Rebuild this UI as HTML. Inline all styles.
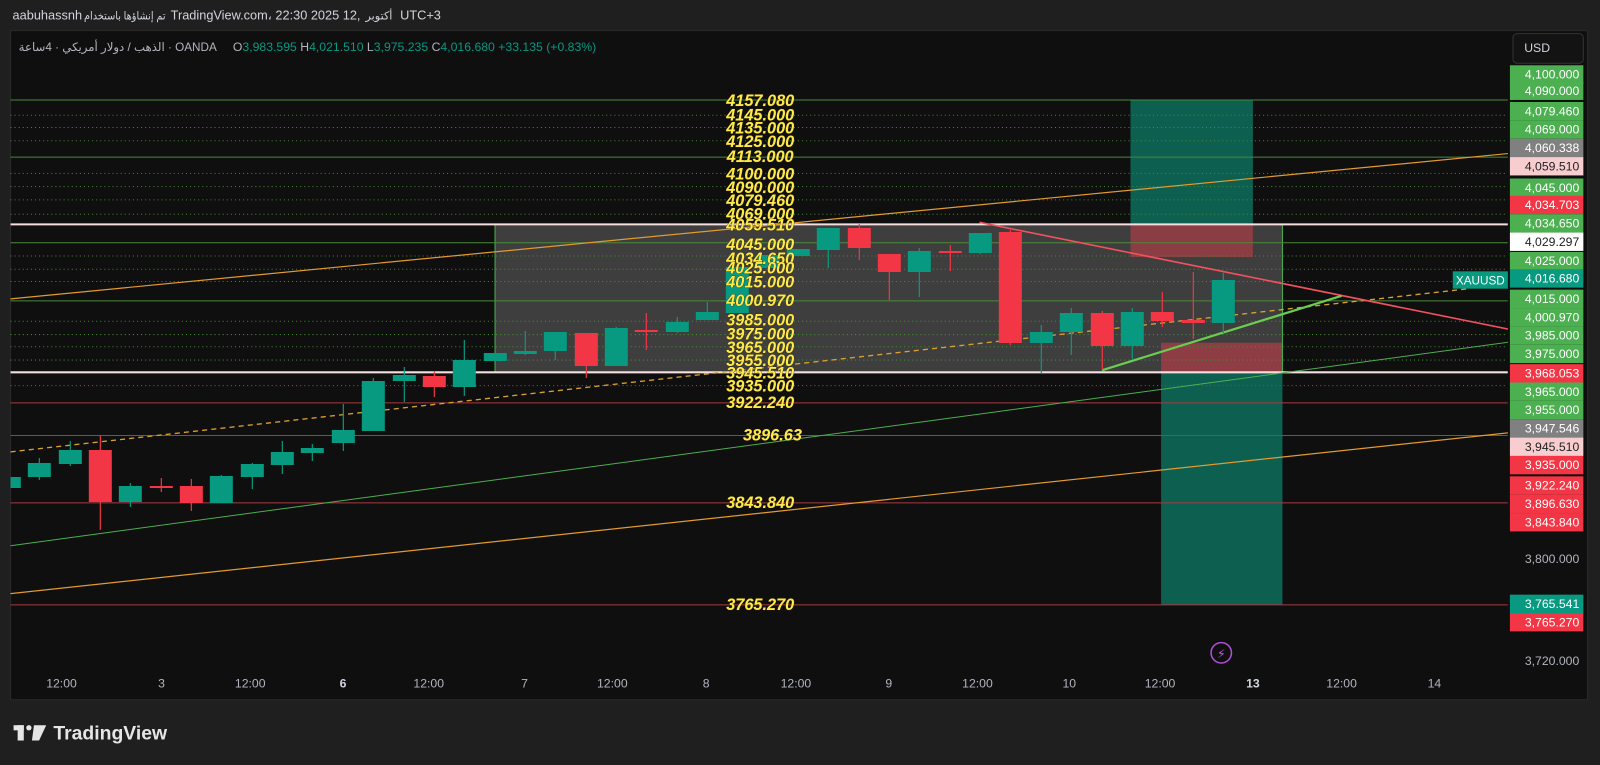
<!DOCTYPE html>
<html><head><meta charset="utf-8">
<style>
html,body{margin:0;padding:0;background:#1f1f1f;}
svg{display:block;}
text{font-family:"Liberation Sans","Noto Sans CJK SC","DejaVu Sans",sans-serif;}
.ax{font-size:12px;fill:#fff;text-anchor:end;}
.axd{font-size:12px;fill:#222;text-anchor:end;}
.yl{font-size:16px;font-weight:bold;font-style:italic;fill:#ffe84a;text-anchor:middle;stroke:#2a2400;stroke-width:0.6;paint-order:stroke;}
.tm{font-size:12px;fill:#b2b5be;text-anchor:middle;}
.u{fill:#089981;}
.d{fill:#f23645;}
.wu{stroke:#089981;stroke-width:1.2;}
.wd{stroke:#f23645;stroke-width:1.2;}
</style></head>
<body>
<svg width="1600" height="765" viewBox="0 0 1568 750" xmlns="http://www.w3.org/2000/svg">
<defs><clipPath id="c"><rect x="10" y="30" width="1468" height="656"/></clipPath></defs>
<rect width="1568" height="750" fill="#1f1f1f"/>
<!-- header -->
<text x="12" y="19" font-size="12.5" fill="#d1d4dc">aabuhassnh</text>
<text x="82" y="19" font-size="11" fill="#d1d4dc" textLength="80" lengthAdjust="spacingAndGlyphs">تم إنشاؤها باستخدام</text>
<text x="167" y="19" font-size="12.5" fill="#d1d4dc">TradingView.com، 22:30 2025 12,</text>
<text x="358" y="19" font-size="11" fill="#d1d4dc">أكتوبر</text>
<text x="392" y="19" font-size="12.5" fill="#d1d4dc">UTC+3</text>
<!-- chart panel -->
<rect x="10" y="30" width="1546" height="656" fill="#0f0f0f" stroke="#2a2a2a"/>
<text x="18" y="50" font-size="11.5" fill="#b2b5be">الذهب / دولار أمريكي · 4ساعة · OANDA</text>
<text x="228" y="50" font-size="12" fill="#b2b5be">O<tspan fill="#089981">3,983.595</tspan>  H<tspan fill="#089981">4,021.510</tspan>  L<tspan fill="#089981">3,975.235</tspan>  C<tspan fill="#089981">4,016.680</tspan>  <tspan fill="#089981">+33.135 (+0.83%)</tspan></text>
<rect x="1483" y="33" width="69" height="29" rx="4" fill="#131313" stroke="#333"/>
<text x="1494" y="51" font-size="12" fill="#d1d4dc">USD</text>

<g clip-path="url(#c)">
<rect x="485" y="220" width="772" height="145" fill="#474747" opacity="0.85"/>
<rect x="1108" y="98" width="120" height="122" fill="#0d5f50"/>
<rect x="1108" y="220" width="120" height="32" fill="#8a3d42"/>
<rect x="1138" y="336" width="119" height="29" fill="#8f3d44"/>
<rect x="1138" y="365" width="119" height="228" fill="#0d5f50"/>
<line x1="485" y1="220" x2="485" y2="365" stroke="#4caf50"/>
<line x1="1257" y1="220" x2="1257" y2="365" stroke="#4caf50"/>
<g stroke-width="1">
<line x1="10" x2="1478" y1="98" y2="98" stroke="#4a8a3a"/>
<line x1="10" x2="1478" y1="113" y2="113" stroke="#4a8a3a" stroke-dasharray="1 3"/>
<line x1="10" x2="1478" y1="125" y2="125" stroke="#4a8a3a" stroke-dasharray="1 3"/>
<line x1="10" x2="1478" y1="138" y2="138" stroke="#4a8a3a" stroke-dasharray="1 3"/>
<line x1="10" x2="1478" y1="154" y2="154" stroke="#4a8a3a"/>
<line x1="10" x2="1478" y1="170" y2="170" stroke="#4a8a3a" stroke-dasharray="1 3"/>
<line x1="10" x2="1478" y1="183" y2="183" stroke="#4a8a3a" stroke-dasharray="1 3"/>
<line x1="10" x2="1478" y1="196" y2="196" stroke="#4a8a3a" stroke-dasharray="1 3"/>
<line x1="10" x2="1478" y1="210" y2="210" stroke="#4a8a3a" stroke-dasharray="1 3"/>
<line x1="10" x2="1478" y1="238" y2="238" stroke="#4a8a3a"/>
<line x1="10" x2="1478" y1="251" y2="251" stroke="#4a8a3a" stroke-dasharray="1 3"/>
<line x1="10" x2="1478" y1="264" y2="264" stroke="#4a8a3a" stroke-dasharray="1 3"/>
<line x1="10" x2="1478" y1="276" y2="276" stroke="#4a8a3a" stroke-dasharray="1 3"/>
<line x1="10" x2="1478" y1="295" y2="295" stroke="#4a8a3a"/>
<line x1="10" x2="1478" y1="315" y2="315" stroke="#4a8a3a" stroke-dasharray="1 3"/>
<line x1="10" x2="1478" y1="328" y2="328" stroke="#4a8a3a" stroke-dasharray="1 3"/>
<line x1="10" x2="1478" y1="340" y2="340" stroke="#4a8a3a" stroke-dasharray="1 3"/>
<line x1="10" x2="1478" y1="353" y2="353" stroke="#4a8a3a" stroke-dasharray="1 3"/>
<line x1="10" x2="1478" y1="378" y2="378" stroke="#a83a40" stroke-dasharray="1 3"/>
<line x1="10" x2="1478" y1="395" y2="395" stroke="#a83a40"/>
<line x1="10" x2="1478" y1="427" y2="427" stroke="#a83a40"/>
<line x1="10" x2="1478" y1="493" y2="493" stroke="#a83a40"/>
<line x1="10" x2="1478" y1="593" y2="593" stroke="#a83a40"/>
<line x1="10" x2="1478" y1="220" y2="220" stroke="#f5dede" stroke-width="2"/>
<line x1="10" x2="1478" y1="365" y2="365" stroke="#f5dede" stroke-width="2"/>
</g>
<line x1="10" y1="293" x2="1556" y2="143" stroke="#e39a2e" stroke-width="1.2"/>
<line x1="10" y1="582" x2="1556" y2="416" stroke="#e39a2e" stroke-width="1.2"/>
<line x1="10" y1="535" x2="1556" y2="325" stroke="#4caf50" stroke-width="1"/>
<line x1="10" y1="443" x2="1440" y2="283" stroke="#d9a030" stroke-width="1.3" stroke-dasharray="5 4"/>
<line x1="960" y1="218" x2="1480" y2="323" stroke="#f0525e" stroke-width="1.6"/>
<line x1="1080" y1="363" x2="1315" y2="290" stroke="#6ccc50" stroke-width="2.2"/>
<!-- candles (original coords) -->
<g transform="scale(0.98039)">
<line class="wu" x1="9" x2="9" y1="477" y2="488"/><rect class="u" x="-2.5" y="477" width="23" height="11"/>
<line class="wu" x1="39" x2="39" y1="458" y2="480"/><rect class="u" x="27.5" y="463" width="23" height="14"/>
<line class="wu" x1="70" x2="70" y1="441" y2="466"/><rect class="u" x="58.5" y="450" width="23" height="14"/>
<line class="wd" x1="100" x2="100" y1="435" y2="530"/><rect class="d" x="88.5" y="450" width="23" height="52"/>
<line class="wu" x1="130" x2="130" y1="483" y2="507"/><rect class="u" x="118.5" y="486" width="23" height="16"/>
<line class="wd" x1="161" x2="161" y1="478" y2="492"/><rect class="d" x="149.5" y="486" width="23" height="2"/>
<line class="wd" x1="191" x2="191" y1="479" y2="511"/><rect class="d" x="179.5" y="486" width="23" height="17"/>
<line class="wu" x1="221" x2="221" y1="475" y2="503"/><rect class="u" x="209.5" y="476" width="23" height="27"/>
<line class="wu" x1="252" x2="252" y1="463" y2="489"/><rect class="u" x="240.5" y="464" width="23" height="13"/>
<line class="wu" x1="282" x2="282" y1="441" y2="474"/><rect class="u" x="270.5" y="452" width="23" height="13"/>
<line class="wu" x1="312" x2="312" y1="444" y2="461"/><rect class="u" x="300.5" y="448" width="23" height="5"/>
<line class="wu" x1="343" x2="343" y1="404" y2="451"/><rect class="u" x="331.5" y="430" width="23" height="13"/>
<line class="wu" x1="373" x2="373" y1="378" y2="431"/><rect class="u" x="361.5" y="381" width="23" height="50"/>
<line class="wu" x1="404" x2="404" y1="367" y2="402"/><rect class="u" x="392.5" y="375" width="23" height="6"/>
<line class="wd" x1="434" x2="434" y1="371" y2="397"/><rect class="d" x="422.5" y="376" width="23" height="11"/>
<line class="wu" x1="464" x2="464" y1="340" y2="396"/><rect class="u" x="452.5" y="360" width="23" height="27"/>
<line class="wu" x1="495" x2="495" y1="353" y2="361"/><rect class="u" x="483.5" y="353" width="23" height="8"/>
<line class="wu" x1="525" x2="525" y1="331" y2="355"/><rect class="u" x="513.5" y="351" width="23" height="3"/>
<line class="wu" x1="555" x2="555" y1="332" y2="360"/><rect class="u" x="543.5" y="332" width="23" height="19"/>
<line class="wd" x1="586" x2="586" y1="333" y2="378"/><rect class="d" x="574.5" y="333" width="23" height="33"/>
<line class="wu" x1="616" x2="616" y1="327" y2="366"/><rect class="u" x="604.5" y="328" width="23" height="38"/>
<line class="wd" x1="646" x2="646" y1="313" y2="350"/><rect class="d" x="634.5" y="330" width="23" height="2"/>
<line class="wu" x1="677" x2="677" y1="317" y2="333"/><rect class="u" x="665.5" y="322" width="23" height="10"/>
<line class="wu" x1="707" x2="707" y1="302" y2="320"/><rect class="u" x="695.5" y="312" width="23" height="8"/>
<line class="wu" x1="737" x2="737" y1="267" y2="313"/><rect class="u" x="725.5" y="267" width="23" height="46"/>
<line class="wu" x1="768" x2="768" y1="255" y2="268"/><rect class="u" x="756.5" y="255" width="23" height="13"/>
<line class="wu" x1="798" x2="798" y1="249" y2="256"/><rect class="u" x="786.5" y="249" width="23" height="7"/>
<line class="wu" x1="828" x2="828" y1="228" y2="268"/><rect class="u" x="816.5" y="228" width="23" height="22"/>
<line class="wd" x1="859" x2="859" y1="224" y2="260"/><rect class="d" x="847.5" y="228" width="23" height="20"/>
<line class="wd" x1="889" x2="889" y1="254" y2="300"/><rect class="d" x="877.5" y="254" width="23" height="18"/>
<line class="wu" x1="919" x2="919" y1="248" y2="297"/><rect class="u" x="907.5" y="251" width="23" height="21"/>
<line class="wd" x1="950" x2="950" y1="245" y2="271"/><rect class="d" x="938.5" y="251" width="23" height="2"/>
<line class="wu" x1="980" x2="980" y1="233" y2="254"/><rect class="u" x="968.5" y="233" width="23" height="20"/>
<line class="wd" x1="1010" x2="1010" y1="230" y2="345"/><rect class="d" x="998.5" y="232" width="23" height="111"/>
<line class="wu" x1="1041" x2="1041" y1="325" y2="373"/><rect class="u" x="1029.5" y="332" width="23" height="11"/>
<line class="wu" x1="1071" x2="1071" y1="308" y2="355"/><rect class="u" x="1059.5" y="313" width="23" height="19"/>
<line class="wd" x1="1102" x2="1102" y1="311" y2="370"/><rect class="d" x="1090.5" y="313" width="23" height="33"/>
<line class="wu" x1="1132" x2="1132" y1="308" y2="360"/><rect class="u" x="1120.5" y="312" width="23" height="34"/>
<line class="wd" x1="1162" x2="1162" y1="292" y2="327"/><rect class="d" x="1150.5" y="312" width="23" height="9"/>
<line class="wd" x1="1193" x2="1193" y1="272" y2="339"/><rect class="d" x="1181.5" y="320" width="23" height="3"/>
<line class="wu" x1="1223" x2="1223" y1="273" y2="333"/><rect class="u" x="1211.5" y="280" width="23" height="43"/>
</g>
</g>
<!-- yellow labels -->
<g>
<text class="yl" x="745" y="104">4157.080</text>
<text class="yl" x="745" y="118">4145.000</text>
<text class="yl" x="745" y="131">4135.000</text>
<text class="yl" x="745" y="144">4125.000</text>
<text class="yl" x="745" y="159">4113.000</text>
<text class="yl" x="745" y="176">4100.000</text>
<text class="yl" x="745" y="189">4090.000</text>
<text class="yl" x="745" y="202">4079.460</text>
<text class="yl" x="745" y="215">4069.000</text>
<text class="yl" x="745" y="226">4059.510</text>
<text class="yl" x="745" y="245">4045.000</text>
<text class="yl" x="745" y="259">4034.650</text>
<text class="yl" x="745" y="268">4025.000</text>
<text class="yl" x="745" y="282">4015.000</text>
<text class="yl" x="745" y="300">4000.970</text>
<text class="yl" x="745" y="319">3985.000</text>
<text class="yl" x="745" y="333">3975.000</text>
<text class="yl" x="745" y="346">3965.000</text>
<text class="yl" x="745" y="359">3955.000</text>
<text class="yl" x="745" y="371">3945.510</text>
<text class="yl" x="745" y="384">3935.000</text>
<text class="yl" x="745" y="400">3922.240</text>
<text class="yl" x="757" y="432">3896.63</text>
<text class="yl" x="745" y="498">3843.840</text>
<text class="yl" x="745" y="598">3765.270</text>
</g>
<rect x="1424" y="266" width="54" height="17" fill="#089981"/>
<text x="1451" y="279" font-size="11.5" fill="#fff" text-anchor="middle">XAUUSD</text>
<!-- right axis labels -->
<g>
<rect x="1480" y="64" width="72" height="18" fill="#4caf50"/><text class="ax" x="1548" y="77">4,100.000</text>
<rect x="1480" y="80" width="72" height="18" fill="#4caf50"/><text class="ax" x="1548" y="93">4,090.000</text>
<rect x="1480" y="100" width="72" height="18" fill="#4caf50"/><text class="ax" x="1548" y="113">4,079.460</text>
<rect x="1480" y="118" width="72" height="18" fill="#4caf50"/><text class="ax" x="1548" y="131">4,069.000</text>
<rect x="1480" y="136" width="72" height="18" fill="#808080"/><text class="ax" x="1548" y="149">4,060.338</text>
<rect x="1480" y="154" width="72" height="18" fill="#f8cdd0"/><text class="axd" x="1548" y="167">4,059.510</text>
<rect x="1480" y="175" width="72" height="18" fill="#4caf50"/><text class="ax" x="1548" y="188">4,045.000</text>
<rect x="1480" y="192" width="72" height="18" fill="#f23645"/><text class="ax" x="1548" y="205">4,034.703</text>
<rect x="1480" y="210" width="72" height="18" fill="#4caf50"/><text class="ax" x="1548" y="223">4,034.650</text>
<rect x="1480" y="228" width="72" height="18" fill="#ffffff"/><text class="axd" x="1548" y="241">4,029.297</text>
<rect x="1480" y="247" width="72" height="18" fill="#4caf50"/><text class="ax" x="1548" y="260">4,025.000</text>
<rect x="1480" y="264" width="72" height="18" fill="#089981"/><text class="ax" x="1548" y="277">4,016.680</text>
<rect x="1480" y="284" width="72" height="18" fill="#4caf50"/><text class="ax" x="1548" y="297">4,015.000</text>
<rect x="1480" y="302" width="72" height="18" fill="#4caf50"/><text class="ax" x="1548" y="315">4,000.970</text>
<rect x="1480" y="320" width="72" height="18" fill="#4caf50"/><text class="ax" x="1548" y="333">3,985.000</text>
<rect x="1480" y="338" width="72" height="18" fill="#4caf50"/><text class="ax" x="1548" y="351">3,975.000</text>
<rect x="1480" y="357" width="72" height="18" fill="#f23645"/><text class="ax" x="1548" y="370">3,968.053</text>
<rect x="1480" y="375" width="72" height="18" fill="#4caf50"/><text class="ax" x="1548" y="388">3,965.000</text>
<rect x="1480" y="393" width="72" height="18" fill="#4caf50"/><text class="ax" x="1548" y="406">3,955.000</text>
<rect x="1480" y="411" width="72" height="18" fill="#808080"/><text class="ax" x="1548" y="424">3,947.546</text>
<rect x="1480" y="429" width="72" height="18" fill="#f8cdd0"/><text class="axd" x="1548" y="442">3,945.510</text>
<rect x="1480" y="447" width="72" height="18" fill="#f23645"/><text class="ax" x="1548" y="460">3,935.000</text>
<rect x="1480" y="467" width="72" height="18" fill="#f23645"/><text class="ax" x="1548" y="480">3,922.240</text>
<rect x="1480" y="485" width="72" height="18" fill="#f23645"/><text class="ax" x="1548" y="498">3,896.630</text>
<rect x="1480" y="503" width="72" height="18" fill="#f23645"/><text class="ax" x="1548" y="516">3,843.840</text>
<text class="ax" x="1548" y="552" style="fill:#b2b5be">3,800.000</text>
<rect x="1480" y="583" width="72" height="18" fill="#089981"/><text class="ax" x="1548" y="596">3,765.541</text>
<rect x="1480" y="601" width="72" height="18" fill="#f23645"/><text class="ax" x="1548" y="614">3,765.270</text>
<text class="ax" x="1548" y="652" style="fill:#b2b5be">3,720.000</text>
</g>
<!-- time axis -->
<g>
<text class="tm" x="60" y="674">12:00</text>
<text class="tm" x="158" y="674">3</text>
<text class="tm" x="245" y="674">12:00</text>
<text class="tm" x="336" y="674" font-weight="bold" style="fill:#d1d4dc">6</text>
<text class="tm" x="420" y="674">12:00</text>
<text class="tm" x="514" y="674">7</text>
<text class="tm" x="600" y="674">12:00</text>
<text class="tm" x="692" y="674">8</text>
<text class="tm" x="780" y="674">12:00</text>
<text class="tm" x="871" y="674">9</text>
<text class="tm" x="958" y="674">12:00</text>
<text class="tm" x="1048" y="674">10</text>
<text class="tm" x="1137" y="674">12:00</text>
<text class="tm" x="1228" y="674" font-weight="bold" style="fill:#d1d4dc">13</text>
<text class="tm" x="1315" y="674">12:00</text>
<text class="tm" x="1406" y="674">14</text>
</g>
<circle cx="1197" cy="640" r="10" fill="none" stroke="#b04fd8" stroke-width="1.5"/>
<text x="1197" y="645" font-size="12" fill="#c060e0" text-anchor="middle">⚡</text>
<g fill="#e6e6e6">
<rect x="13" y="711" width="10" height="5"/><rect x="17" y="711" width="6" height="15"/>
<circle cx="28" cy="713.5" r="2.6"/>
<polygon points="33,711 45,711 38,726 31,726"/>
</g>
<text x="52" y="725" font-size="19" font-weight="bold" fill="#e6e6e6">TradingView</text>
</svg>
</body></html>
